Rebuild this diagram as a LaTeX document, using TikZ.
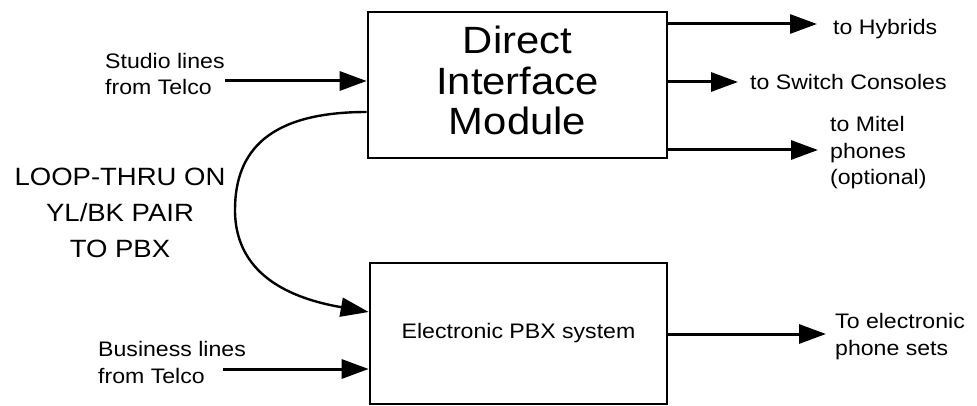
\documentclass[tikz,border=0pt]{standalone}
\usepackage{fontspec}
\setmainfont{Liberation Sans}[FakeStretch=1.1]
\usetikzlibrary{arrows.meta}
\begin{document}
\begin{tikzpicture}[x=1pt,y=-1pt,
  boxnode/.style={draw,line width=2.6pt,inner sep=0pt},
  arr/.style={line width=3pt,-{Triangle[length=27pt,width=19pt]}},
  curvearr/.style={line width=2.4pt,-{Triangle[length=28pt,width=19pt]}},
  bigtxt/.style={font=\fontsize{38}{40.5}\selectfont,align=center},
  midtxt/.style={font=\fontsize{25}{36.5}\selectfont,align=center,inner sep=0pt},
  smalltxt/.style={font=\fontsize{21}{26.5}\selectfont,align=left,inner sep=0pt}]
\fill[white] (0,0) rectangle (977,406);
\useasboundingbox (0,0) rectangle (977,406);

% boxes
\node[boxnode,bigtxt,minimum width=299pt,minimum height=146pt,text depth=8.6pt] (dim) at (517.5,85) {Direct\\Interface\\Module};
\node[boxnode,minimum width=297pt,minimum height=141pt,font=\fontsize{21}{26.5}\selectfont] (pbx) at (518.5,333.5) {Electronic PBX system};

% texts (base anchor = baseline of last line)
\node[smalltxt,anchor=base west] (studio) at (105,95) {Studio lines\\from Telco};
\node[smalltxt,anchor=base west] (business) at (98,383) {Business lines\\from Telco};
\node[midtxt,anchor=base] (loop) at (120,258) {LOOP-THRU ON\\YL/BK PAIR\\TO PBX};
\node[smalltxt,anchor=base west] (hyb) at (833,35) {to Hybrids};
\node[smalltxt,anchor=base west] (sw) at (750,90) {to Switch Consoles};
\node[smalltxt,anchor=base west] (mitel) at (830,185) {to Mitel\\phones\\(optional)};
\node[smalltxt,anchor=base west] (elec) at (835,355) {To electronic\\phone sets};

% free ends
\coordinate (studiostart) at (225,81);
\coordinate (busstart) at (223,369);
\coordinate (hybtip) at (817,24);
\coordinate (swtip) at (738,82);
\coordinate (mitip) at (818,150);
\coordinate (electip) at (826,334);

% connectors
\draw[arr] (studiostart) -- (studiostart -| dim.west);
\draw[arr] (busstart) -- (busstart -| pbx.west);
\draw[arr] (hybtip -| dim.east) -- (hybtip);
\draw[arr] (swtip -| dim.east) -- (swtip);
\draw[arr] (mitip -| dim.east) -- (mitip);
\draw[arr] (electip -| pbx.east) -- (electip);
\draw[curvearr] ([yshift=-27pt]dim.west) .. controls (270,112) and (235,150) .. (235,210)
  .. controls (235,280) and (300,300) .. ([yshift=21.5pt]pbx.west);
\end{tikzpicture}
\end{document}
